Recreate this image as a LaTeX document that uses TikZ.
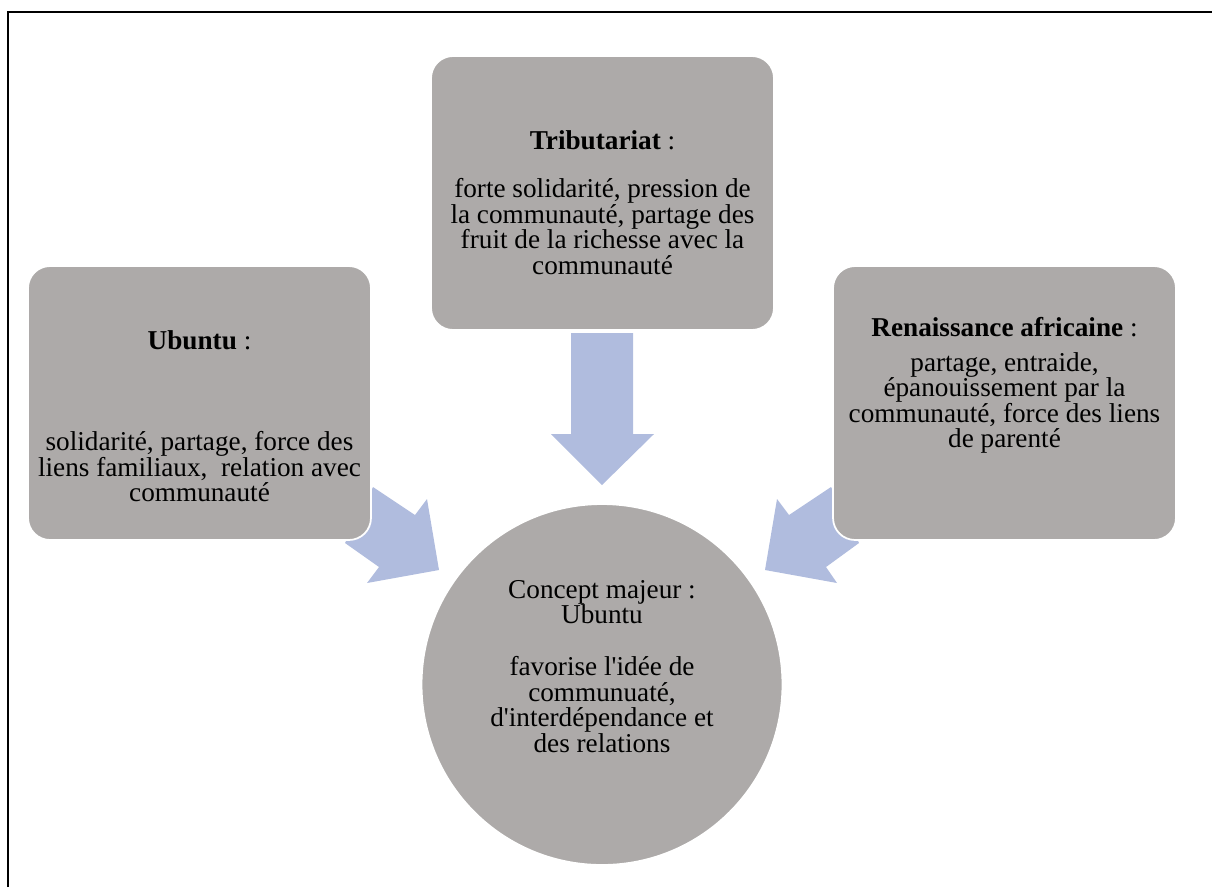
\documentclass[tikz,border=0pt]{standalone}
\usepackage{fontspec}
\setmainfont{Liberation Serif}
\usetikzlibrary{positioning}
\definecolor{boxgray}{RGB}{173,170,169}
\definecolor{arrowblue}{RGB}{176,188,222}

\begin{document}
\begin{tikzpicture}[x=0.02cm, y=-0.02cm,
  txt/.style={font=\fontsize{15.5}{14.5}\selectfont, align=center, inner sep=0pt},
  box/.style={fill=boxgray, draw=white, line width=1pt, rounded corners=0.44cm,
              minimum width=6.86cm, minimum height=5.48cm},
  blockarrow/.style={fill=arrowblue}]
 \useasboundingbox (0,0) rectangle (1212,887);
 % frame, only the left and top sides are seen
 \draw [line width=1pt] (8.2,887) -- (8.2,12.2) -- (1212,12.2);
 % block arrows (drawn first, the boxes cover them)
 \fill [blockarrow] (571,333) -- (633,333) -- (633,434) -- (654,434) -- (602,485)
       -- (551,434) -- (571,434) -- cycle;
 \fill [blockarrow] (373,487) -- (415,515) -- (427,499) -- (439,570) -- (367,583)
       -- (379,567) -- (345,543) -- cycle;
 \fill [blockarrow] (831,487) -- (789,515) -- (777,499) -- (765,570) -- (837,583)
       -- (826,567) -- (859,543) -- cycle;
 % boxes
 \node [box] (ubuntu) at (199.5,403) {};
 \node [box] (tribut) at (602.5,193) {};
 \node [box] (renais) at (1004.5,403) {};
 \node [circle, fill=boxgray, draw=white, line width=1pt, minimum size=7.22cm]
       (concept) at (602,684.5) {};
 % titles
 \node [txt] (ubuntuhead) at (199.5,340) {\textbf{Ubuntu} :};
 \node [txt] (tributhead) at (602.5,140) {\textbf{Tributariat} :};
 \node [txt] (renaishead) at (1004.5,327) {\textbf{Renaissance africaine} :};
 \node [txt] (concepthead) at (602,602) {Concept majeur :\\Ubuntu};
 % texts
 \node [txt] (ubuntutxt) at (199.5,467)
   {solidarité, partage, force des\\liens familiaux,\ \ relation avec\\communauté};
 \node [txt] (tributtxt) at (602.5,226.5)
   {forte solidarité, pression de\\la communauté, partage des\\fruit de la richesse avec la\\communauté};
 \node [txt] (renaistxt) at (1004.5,403)
   {partage, entraide,\\épanouissement par la\\communauté, force des liens\\de parenté};
 \node [txt] (concepttxt) at (602,704.5)
   {favorise l\textquotesingle idée de\\communuaté,\\d\textquotesingle interdépendance et\\des relations};
\end{tikzpicture}
\end{document}
